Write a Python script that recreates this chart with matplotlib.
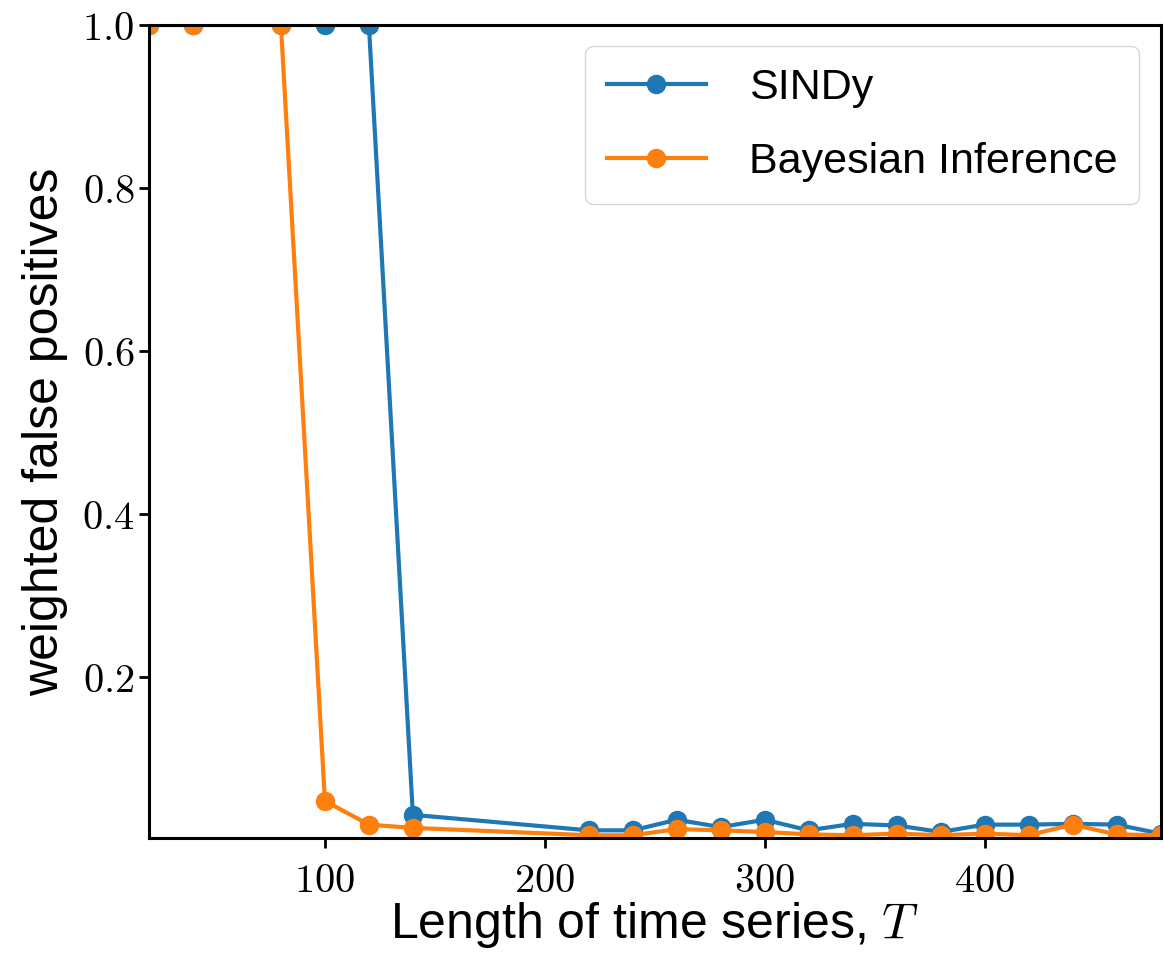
import numpy as np
import matplotlib
matplotlib.use("Agg")
import matplotlib.pyplot as plt
from matplotlib.ticker import FuncFormatter

# Length of time series
T = [20, 40, 80, 100, 120, 140, 220, 240, 260, 280, 300, 320, 340, 360,
     380, 400, 420, 440, 460, 480]

# weighted false positives
sindy = [1.0, 1.0, 1.0, 1.0, 1.0, 0.031, 0.012, 0.012, 0.025, 0.016, 0.025,
         0.012, 0.020, 0.018, 0.010, 0.019, 0.019, 0.020, 0.019, 0.008]
bayes = [1.0, 1.0, 1.0, 0.048, 0.019, 0.015, 0.006, 0.006, 0.0135, 0.012,
         0.010, 0.007, 0.006, 0.008, 0.006, 0.008, 0.006, 0.019, 0.007, 0.006]

plt.rcParams['mathtext.fontset'] = 'cm'
plt.rcParams['font.family'] = 'Liberation Sans'

fig = plt.figure(figsize=(11.64, 9.6), dpi=100)
ax = fig.add_axes([0.128, 0.127, 0.869, 0.847])

ax.plot(T, sindy, marker='o', color='#1f77b4', linewidth=3, markersize=13,
        label='SINDy')
ax.plot(T, bayes, marker='o', color='#ff7f0e', linewidth=3, markersize=13,
        label='Bayesian Inference')

ax.set_xlim(20, 480)
ax.set_ylim(0.0025, 1.0)
ax.set_xticks([100, 200, 300, 400])
ax.set_yticks([0.2, 0.4, 0.6, 0.8, 1.0])
ax.xaxis.set_major_formatter(FuncFormatter(lambda v, p: r'$%d$' % v))
ax.yaxis.set_major_formatter(FuncFormatter(lambda v, p: r'$%.1f$' % v))
ax.tick_params(labelsize=29, width=2, length=7)
ax.tick_params(axis='x', pad=10)
for s in ax.spines.values():
    s.set_linewidth(2.2)

ax.set_xlabel(r'Length of time series, $T$', fontsize=36, labelpad=0)
ax.set_ylabel('weighted false positives', fontsize=36, labelpad=10)

ax.legend(loc='upper right', fontsize=31, handlelength=2.3, borderpad=0.5,
          labelspacing=0.8, handletextpad=1.0, framealpha=0.8,
          edgecolor='#cccccc')

fig.savefig('out.png', dpi=100)
